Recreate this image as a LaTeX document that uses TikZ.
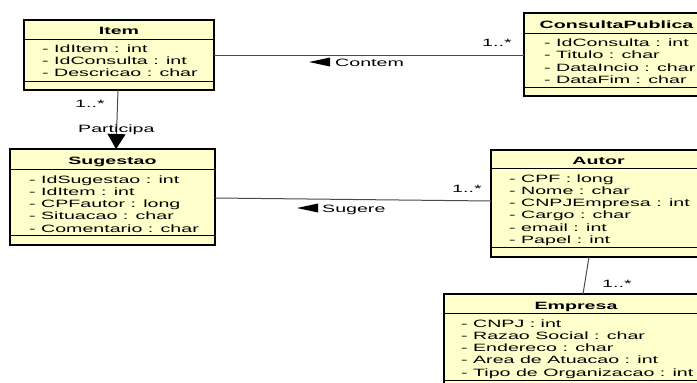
\documentclass[tikz,border=0pt]{standalone}
\usepackage{fontspec}
\setmainfont{Liberation Sans}[FakeStretch=1.85]
\usetikzlibrary{calc,arrows.meta}
\definecolor{clsfill}{HTML}{FFFFCC}
\definecolor{connclr}{HTML}{4A4A4A}
\begin{document}
\begin{tikzpicture}[x=1pt,y=-1pt,
  cls/.style={draw=black, line width=1.6pt, fill=clsfill, inner sep=0pt, outer sep=0pt},
  sepline/.style={draw=black, line width=0.9pt},
  ttl/.style={font=\fontsize{10.6}{12.3}\selectfont\bfseries, inner sep=0pt, anchor=base},
  attr/.style={font=\fontsize{10.6}{12.3}\selectfont, inner sep=0pt, anchor=base west, align=left},
  lbl/.style={font=\fontsize{10.6}{12.3}\selectfont, inner sep=0pt, anchor=base west},
  conn/.style={draw=connclr, line width=1pt}]
\useasboundingbox (0,0) rectangle (697,383);
\fill[white] (0,0) rectangle (697,383);
\clip (0,0) rectangle (697,383);

% ---- classes ----
\node[cls, minimum width=190pt, minimum height=70pt] (item) at (119,55) {};
\node[cls, minimum width=185pt, minimum height=83pt] (cp) at (616.5,54.5) {};
\node[cls, minimum width=205pt, minimum height=96pt] (sug) at (112.5,197) {};
\node[cls, minimum width=215pt, minimum height=107pt] (autor) at (598.5,203.5) {};
\node[cls, minimum width=264pt, minimum height=96pt] (emp) at (576,342) {};

% compartment lines
\draw[sepline] ($(item.north west)+(0,19)$) -- ($(item.north east)+(0,19)$);
\draw[sepline] ($(item.north west)+(0,61)$) -- ($(item.north east)+(0,61)$);
\draw[sepline] ($(cp.north west)+(0,20)$) -- ($(cp.north east)+(0,20)$);
\draw[sepline] ($(cp.north west)+(0,74)$) -- ($(cp.north east)+(0,74)$);
\draw[sepline] ($(sug.north west)+(0,20)$) -- ($(sug.north east)+(0,20)$);
\draw[sepline] ($(sug.north west)+(0,86)$) -- ($(sug.north east)+(0,86)$);
\draw[sepline] ($(autor.north west)+(0,18)$) -- ($(autor.north east)+(0,18)$);
\draw[sepline] ($(autor.north west)+(0,97)$) -- ($(autor.north east)+(0,97)$);
\draw[sepline] ($(emp.north west)+(0,19)$) -- ($(emp.north east)+(0,19)$);
\draw[sepline] ($(emp.north west)+(0,86)$) -- ($(emp.north east)+(0,86)$);

% titles
\node[ttl] (itemT) at (119,34.5) {Item};
\node[ttl] (cpT) at (616.5,28) {ConsultaPublica};
\node[ttl] (sugT) at (112.5,164.5) {Sugestao};
\node[ttl] (autorT) at (598.5,164.5) {Autor};
\node[ttl] (empT) at (576,309) {Empresa};

% attributes (anchor = baseline of the last line)
\node[attr] (itemA) at (42,76.6) {- IdItem : int\\- IdConsulta : int\\- Descricao : char};
\node[attr] (cpA) at (544,83.4) {- IdConsulta : int\\- Titulo : char\\- DataIncio : char\\- DataFim : char};
\node[attr] (sugA) at (29,232.2) {- IdSugestao : int\\- IdItem : int\\- CPFautor : long\\- Situacao : char\\- Comentario : char};
\node[attr] (autorA) at (509,243.5) {- CPF : long\\- Nome : char\\- CNPJEmpresa : int\\- Cargo : char\\- email : int\\- Papel : int};
\node[attr] (empA) at (461,376.2) {- CNPJ : int\\- Razao Social : char\\- Endereco : char\\- Area de Atuacao : int\\- Tipo de Organizacao : int};

% ---- connectors ----
\draw[conn] (item.east) -- (item.east -| cp.west);
\draw[conn, -{Triangle[width=18pt,length=15pt,color=black,fill=black]}] ($(item.south)+(-1,0)$) -- ($(sug.north)+(3.5,0)$);
\draw[conn] ($(sug.east)+(0,1)$) -- ($(autor.west)+(0,-2.5)$);
\draw[conn] ($(autor.south)+(-9.5,0)$) -- ($(emp.north)+(7,0)$);

% direction markers
\fill[black] (309,62) -- (330,57.5) -- (330,66.5) -- cycle;
\fill[black] (297,208) -- (318,203.5) -- (318,212.5) -- cycle;

% labels
\node[lbl] (contemL) at (335,66) {Contem};
\node[lbl] (contemM) at (482,46) {1..*};
\node[lbl] (partL) at (78,132) {Participa};
\node[lbl] (partM) at (75,107) {1..*};
\node[lbl] (sugereL) at (322,212) {Sugere};
\node[lbl] (sugereM) at (452,192) {1..*};
\node[lbl] (empM) at (602,287) {1..*};
\end{tikzpicture}
\end{document}
